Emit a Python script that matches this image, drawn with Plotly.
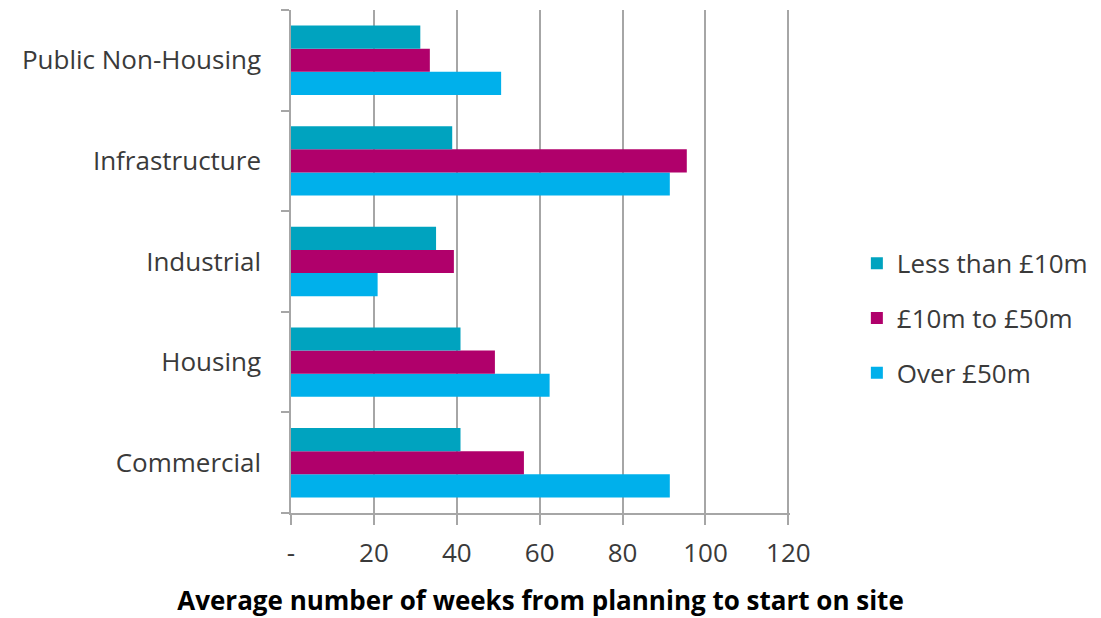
import plotly.graph_objects as go

categories = ["Commercial", "Housing", "Industrial", "Infrastructure", "Public Non-Housing"]
less_10m = [40.9, 40.9, 35.0, 38.9, 31.2]
from_10_to_50m = [56.2, 49.2, 39.3, 95.5, 33.5]
over_50m = [91.4, 62.4, 20.9, 91.4, 50.7]

tick_vals = [0, 20, 40, 60, 80, 100, 120]
tick_text = ["-", "20", "40", "60", "80", "100", "120"]

FONT = "Open Sans, sans-serif"
GRID = "#a6a6a6"
TXT = "#3a3a3a"

fig = go.Figure()
series = [
    ("Over £50m", over_50m, "#00b0eb", 3),
    ("£10m to £50m", from_10_to_50m, "#b0006b", 2),
    ("Less than £10m", less_10m, "#00a3bf", 1),
]
for name, vals, col, rank in series:
    fig.add_trace(go.Bar(
        y=categories, x=vals, name=name, orientation="h",
        marker=dict(color=col, line=dict(width=0)),
        legendgroup=name, legendrank=rank,
    ))

fig.update_layout(
    width=1101, height=618,
    margin=dict(l=291, r=311, t=10, b=105, autoexpand=False),
    paper_bgcolor="white", plot_bgcolor="white",
    barmode="group", bargap=0.31, bargroupgap=0,
    font=dict(family=FONT, size=26, color=TXT),
    legend=dict(
        x=1.134, xanchor="left", y=0.387, yanchor="middle",
        traceorder="grouped", tracegroupgap=18,
        font=dict(size=26, color=TXT),
        itemwidth=30,
    ),
    xaxis=dict(
        range=[0, 120.4], tickvals=tick_vals, ticktext=tick_text,
        showgrid=True, gridcolor=GRID, gridwidth=1.5,
        showline=True, linecolor=GRID, linewidth=1.5,
        ticks="outside", ticklen=10, tickcolor=GRID, tickwidth=1.5,
        ticklabelstandoff=6, zeroline=False, automargin=False,
        tickfont=dict(size=26, color=TXT),
        title=dict(text="<b>Average number of weeks from planning to start on site</b>",
                   font=dict(size=26, color="#000000"), standoff=26),
    ),
    yaxis=dict(
        categoryorder="array", categoryarray=categories,
        showline=True, linecolor=GRID, linewidth=1.5,
        ticks="outside", tickson="boundaries", ticklen=8, tickcolor=GRID, tickwidth=1.5,
        ticklabelstandoff=23, automargin=False,
        tickfont=dict(size=26, color=TXT),
        showgrid=False,
    ),
)

fig.write_html("out.html")
